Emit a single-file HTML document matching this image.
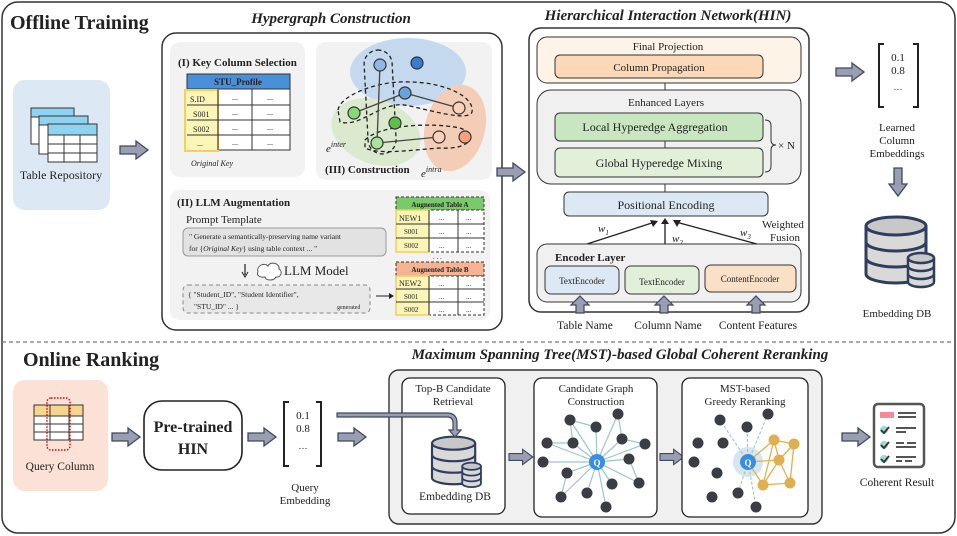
<!DOCTYPE html>
<html><head><meta charset="utf-8"><style>body{margin:0;background:#fff}svg{display:block}text{font-family:"Liberation Serif",serif;fill:#222}</style></head><body>
<svg width="957" height="536" viewBox="0 0 957 536" xmlns="http://www.w3.org/2000/svg">
<defs>
<path id="ar" d="M0,-4 H16 V-9 L28,0 L16,9 V4 H0 Z" fill="#9b9db3" stroke="#3d4a5c" stroke-width="1.3"/>
<g id="db">
<path d="M0,10 V58 A30,9 0 0 0 60,58 V10" fill="#d9d9d9" stroke="#2f3e5c" stroke-width="3"/>
<ellipse cx="30" cy="10" rx="30" ry="9" fill="#c8c8c8" stroke="#2f3e5c" stroke-width="3"/>
<path d="M0,26 A30,9 0 0 0 60,26 M0,42 A30,9 0 0 0 60,42" fill="none" stroke="#2f3e5c" stroke-width="3"/>
<path d="M42,42 V66 A13,5 0 0 0 68,66 V42" fill="#d9d9d9" stroke="#2f3e5c" stroke-width="2.5"/>
<ellipse cx="55" cy="42" rx="13" ry="5" fill="#c8c8c8" stroke="#2f3e5c" stroke-width="2.5"/>
<path d="M42,50 A13,5 0 0 0 68,50 M42,58 A13,5 0 0 0 68,58" fill="none" stroke="#2f3e5c" stroke-width="2.5"/>
</g>
</defs>
<rect x="2" y="2" width="953" height="531" rx="16" fill="#fff" stroke="#333" stroke-width="1.5"/>
<line x1="2" y1="342" x2="955" y2="342" stroke="#777" stroke-width="1.2" stroke-dasharray="4,3"/>
<text x="10" y="29" font-size="20" font-weight="bold">Offline Training</text>
<text x="23" y="366" font-size="20" font-weight="bold">Online Ranking</text>

<!-- Table repository -->
<rect x="13" y="80" width="97" height="130" rx="12" fill="#dce9f5"/>
<g stroke="#333" stroke-width="1" fill="#fff">
<rect x="31" y="108" width="43" height="36"/><rect x="31" y="108" width="43" height="9" fill="#8fd3f0"/>
<rect x="39" y="116" width="49" height="38"/><rect x="39" y="116" width="49" height="9" fill="#8fd3f0"/>
<rect x="48" y="124" width="49" height="38"/><rect x="48" y="124" width="49" height="11" fill="#8fd3f0"/>
<path d="M48,144 H97 M48,153 H97 M64,135 V162 M80,135 V162" fill="none"/>
</g>
<text x="61" y="179" font-size="12" text-anchor="middle">Table Repository</text>
<use href="#ar" x="120" y="150"/>

<!-- Hypergraph -->
<text x="331" y="23" font-size="15" font-weight="bold" font-style="italic" text-anchor="middle">Hypergraph Construction</text>
<rect x="162" y="33" width="340" height="297" rx="14" fill="#fff" stroke="#333" stroke-width="1.5"/>
<rect x="170" y="42" width="135" height="135" rx="10" fill="#f2f2f2"/>
<text x="178" y="66" font-size="11" font-weight="bold">(I) Key Column Selection</text>
<rect x="187" y="74" width="103" height="15" fill="#4a90d9" stroke="#333"/>
<text x="238" y="85" font-size="9" font-weight="bold" text-anchor="middle" font-family="Liberation Mono">STU_Profile</text>
<g stroke="#333" fill="#fff"><rect x="187" y="89" width="103" height="61"/></g>
<rect x="185" y="90" width="33" height="61" fill="#fbf6b8" stroke="#f0d060" stroke-width="2"/>
<path d="M187,105 H290 M187,120 H290 M187,135 H290 M218,89 V150 M252,89 V150" stroke="#333" fill="none"/>
<g font-size="8"><text x="190" y="102">S.ID</text><text x="193" y="117">S001</text><text x="193" y="132">S002</text><text x="197" y="146">...</text>
<text x="232" y="100">...</text><text x="267" y="100">...</text><text x="232" y="115">...</text><text x="267" y="115">...</text><text x="232" y="130">...</text><text x="267" y="130">...</text><text x="232" y="145">...</text><text x="267" y="145">...</text></g>
<text x="191" y="166" font-size="8" font-style="italic" fill="#555">Original Key</text>

<rect x="316" y="42" width="176" height="138" rx="10" fill="#f2f2f2"/>
<ellipse cx="408" cy="72" rx="58" ry="34" fill="#c5d9ee"/>
<ellipse cx="376" cy="132" rx="46" ry="32" fill="#dbeacf" transform="rotate(20 376 132)"/>
<ellipse cx="455" cy="128" rx="30" ry="44" fill="#f4cdb6" transform="rotate(15 455 128)"/>
<g fill="none" stroke="#222" stroke-width="1.3" stroke-dasharray="4,3">
<rect x="366" y="50" width="28" height="104" rx="14" transform="rotate(-3 380 100)"/>
<path d="M338,110 C340,95 380,80 410,82 C440,82 475,95 472,112 C468,122 430,110 405,105 C380,102 360,128 340,122 Z"/>
<path d="M365,140 C380,125 430,122 460,128 C480,135 470,150 440,148 C410,150 380,155 365,148 Z"/>
</g>
<g stroke="#444" stroke-width="1.3"><line x1="380" y1="65" x2="377" y2="143"/><line x1="354" y1="113" x2="405" y2="93"/><line x1="405" y1="93" x2="459" y2="108"/><line x1="377" y1="143" x2="439" y2="137"/></g>
<g stroke="#333" stroke-width="1.2">
<circle cx="380" cy="65" r="6" fill="#8fb8e6"/><circle cx="417" cy="63" r="6" fill="#3a7bd0"/><circle cx="405" cy="93" r="6" fill="#6aa2de"/>
<circle cx="354" cy="113" r="6" fill="#8ad77a"/><circle cx="395" cy="123" r="6" fill="#5ec04a"/><circle cx="377" cy="143" r="6" fill="#a9e49a"/>
<circle cx="459" cy="108" r="6" fill="#f8d2bb"/><circle cx="439" cy="137" r="6" fill="#f8d2bb"/><circle cx="465" cy="137" r="6" fill="#f3a27c"/></g>
<text x="326" y="152" font-size="11" font-style="italic">e<tspan font-size="8" dy="-5">inter</tspan></text>
<text x="421" y="177" font-size="11" font-style="italic">e<tspan font-size="8" dy="-5">intra</tspan></text>
<text x="325" y="173" font-size="11" font-weight="bold">(III) Construction</text>

<rect x="170" y="190" width="320" height="130" rx="10" fill="#f2f2f2"/>
<text x="177" y="206" font-size="11" font-weight="bold">(II) LLM Augmentation</text>
<text x="186" y="223" font-size="11">Prompt Template</text>
<rect x="183" y="228" width="203" height="28" rx="5" fill="#e2e2e2" stroke="#999"/>
<text x="189" y="239" font-size="7.5" font-family="Liberation Mono" fill="#444">" Generate a semantically-preserving name variant</text>
<text x="189" y="251" font-size="7.5" font-family="Liberation Mono" fill="#444">for {<tspan font-style="italic">Original Key</tspan>} using table context  ... "</text>
<path d="M245,264 V275" stroke="#222" stroke-width="1.2"/><path d="M242,272 L245,277 L248,272" fill="none" stroke="#222"/>
<path d="M258,272 c-2,-6 6,-10 10,-6 c2,-5 12,-3 11,3 c4,2 2,9 -3,8 c-2,4 -10,4 -11,0 c-5,1 -9,-2 -7,-5 z" fill="#fff" stroke="#555"/>
<text x="284" y="275" font-size="13">LLM Model</text>
<rect x="183" y="285" width="187" height="28" rx="5" fill="#e8e8e8" stroke="#888" stroke-dasharray="4,3"/>
<text x="188" y="297" font-size="7.5" font-family="Liberation Mono" fill="#444">{ "Student_ID", "Student Identifier",</text>
<text x="194" y="309" font-size="7.5" font-family="Liberation Mono" fill="#444">"STU_ID" ... }</text>
<text x="337" y="309" font-size="6" fill="#888">generated</text>
<path d="M376,296 H392" stroke="#222"/><path d="M389,293 L394,296 L389,299 Z" fill="#222"/>
<g font-size="7">
<rect x="396" y="197" width="88" height="13" fill="#7ac96a" stroke="#333" stroke-dasharray="3,2"/>
<text x="440" y="207" font-weight="bold" text-anchor="middle">Augnented Table A</text>
<rect x="396" y="210" width="88" height="42" fill="#fff" stroke="#333" stroke-dasharray="3,2"/>
<rect x="396" y="210" width="33" height="42" fill="#fbf6b8" stroke="#f0d060" stroke-width="1.5"/>
<path d="M396,224 H484 M396,238 H484 M429,210 V252 M458,210 V252" stroke="#333"/>
<text x="399" y="221" font-size="8">NEW1</text><text x="404" y="234">S001</text><text x="404" y="248">S002</text>
<text x="439" y="220">...</text><text x="466" y="220">...</text><text x="439" y="234">...</text><text x="466" y="234">...</text><text x="439" y="248">...</text><text x="466" y="248">...</text>
<text x="433" y="259">. . .</text>
<rect x="396" y="262" width="88" height="14" fill="#f4b393" stroke="#333" stroke-dasharray="3,2"/>
<text x="440" y="272" font-weight="bold" text-anchor="middle">Augnented Table B</text>
<rect x="396" y="276" width="88" height="39" fill="#fff" stroke="#333" stroke-dasharray="3,2"/>
<rect x="396" y="276" width="33" height="39" fill="#fbf6b8" stroke="#f0d060" stroke-width="1.5"/>
<path d="M396,289 H484 M396,302 H484 M429,276 V315 M458,276 V315" stroke="#333"/>
<text x="399" y="286" font-size="8">NEW2</text><text x="404" y="299">S001</text><text x="404" y="312">S002</text>
<text x="439" y="286">...</text><text x="466" y="286">...</text><text x="439" y="299">...</text><text x="466" y="299">...</text><text x="439" y="312">...</text><text x="466" y="312">...</text>
</g>
<use href="#ar" x="497" y="172"/>

<!-- HIN -->
<text x="668" y="20" font-size="15" font-weight="bold" font-style="italic" text-anchor="middle">Hierarchical Interaction Network(HIN)</text>
<rect x="529" y="28" width="280" height="284" rx="12" fill="#fff" stroke="#333" stroke-width="1.5"/>
<rect x="537" y="37" width="264" height="46" rx="10" fill="#fdf3e6" stroke="#333"/>
<text x="668" y="50" font-size="11" text-anchor="middle">Final Projection</text>
<rect x="555" y="55" width="208" height="23" rx="5" fill="#fbd9b8" stroke="#333"/>
<text x="659" y="71" font-size="11" text-anchor="middle">Column Propagation</text>
<line x1="665" y1="83" x2="665" y2="90" stroke="#333"/>
<rect x="537" y="90" width="264" height="94" rx="14" fill="#f0f0f0" stroke="#333"/>
<text x="666" y="106" font-size="11" text-anchor="middle">Enhanced Layers</text>
<rect x="555" y="113" width="208" height="28" rx="5" fill="#c8e6c0" stroke="#333"/>
<text x="655" y="131" font-size="12" text-anchor="middle">Local Hyperedge Aggregation</text>
<line x1="665" y1="141" x2="665" y2="148" stroke="#333"/>
<rect x="555" y="148" width="208" height="29" rx="5" fill="#e2f0da" stroke="#333"/>
<text x="659" y="167" font-size="12" text-anchor="middle">Global Hyperedge Mixing</text>
<path d="M765,120 q6,0 6,6 v14 q0,5 5,5 q-5,0 -5,5 v16 q0,6 -6,6" fill="none" stroke="#333"/>
<text x="778" y="149" font-size="11">× N</text>
<line x1="665" y1="184" x2="665" y2="192" stroke="#333"/>
<rect x="564" y="192" width="204" height="24" rx="5" fill="#dde8f5" stroke="#333"/>
<text x="666" y="209" font-size="12" text-anchor="middle">Positional Encoding</text>
<g stroke="#222" stroke-width="1.3"><line x1="587" y1="244" x2="655" y2="222"/><line x1="665" y1="244" x2="665" y2="222"/><line x1="757" y1="244" x2="676" y2="222"/></g>
<path d="M650,220 L658,221 L653,227 Z M661,224 L665,218 L669,224 Z M673,220 L681,220 L677,227 Z" fill="#222"/>
<text x="598" y="232" font-size="11" font-style="italic">w<tspan font-size="7" dy="3">1</tspan></text>
<text x="672" y="242" font-size="11" font-style="italic">w<tspan font-size="7" dy="3">2</tspan></text>
<text x="740" y="236" font-size="11" font-style="italic">w<tspan font-size="7" dy="3">3</tspan></text>
<text x="783" y="228" font-size="11" text-anchor="middle">Weighted</text>
<text x="785" y="241" font-size="11" text-anchor="middle">Fusion</text>
<rect x="537" y="244" width="264" height="58" rx="10" fill="#f0f0f0" stroke="#333"/>
<text x="555" y="261" font-size="11" font-weight="bold">Encoder Layer</text>
<rect x="545" y="266" width="74" height="28" rx="6" fill="#dde8f5" stroke="#333"/>
<text x="582" y="284" font-size="9" text-anchor="middle">TextEncoder</text>
<rect x="625" y="266" width="74" height="28" rx="6" fill="#e2f0da" stroke="#333"/>
<text x="662" y="285" font-size="9" text-anchor="middle">TextEncoder</text>
<rect x="705" y="265" width="91" height="27" rx="6" fill="#fbe0c8" stroke="#333"/>
<text x="750" y="282" font-size="9" text-anchor="middle">ContentEncoder</text>
<g fill="#9b9db3" stroke="#3d4a5c" stroke-width="1.2">
<path d="M580,296 L589,305 H584 V313 H576 V305 H571 Z"/>
<path d="M664,296 L673,305 H668 V313 H660 V305 H655 Z"/>
<path d="M756,296 L765,305 H760 V313 H752 V305 H747 Z"/></g>
<text x="585" y="329" font-size="11.5" text-anchor="middle">Table Name</text>
<text x="668" y="329" font-size="11.5" text-anchor="middle">Column Name</text>
<text x="758" y="329" font-size="11.5" text-anchor="middle">Content Features</text>

<!-- right -->
<use href="#ar" x="836" y="72"/>
<path d="M884,44 H879 V107 H884 M913,44 H918 V107 H913" fill="none" stroke="#222" stroke-width="2"/>
<text x="898" y="61" font-size="11" text-anchor="middle">0.1</text>
<text x="898" y="74" font-size="11" text-anchor="middle">0.8</text>
<text x="898" y="90" font-size="9" text-anchor="middle" fill="#777">…</text>
<g font-size="11" text-anchor="middle"><text x="897" y="131">Learned</text><text x="897" y="144">Column</text><text x="897" y="157">Embeddings</text></g>
<use href="#ar" transform="translate(898,168) rotate(90)"/>
<use href="#db" x="866" y="216"/>
<text x="897" y="317" font-size="11" text-anchor="middle">Embedding DB</text>

<!-- Online -->
<rect x="13" y="380" width="95" height="111" rx="12" fill="#fbe1d6"/>
<rect x="34" y="405" width="49" height="11" fill="#f6d68f" stroke="#333"/>
<rect x="34" y="416" width="49" height="24" fill="#fff" stroke="#333"/>
<path d="M34,424 H83 M34,432 H83 M50,405 V440 M69,405 V440" stroke="#333"/>
<rect x="47" y="398" width="23" height="52" rx="4" fill="none" stroke="#d00" stroke-width="1.4" stroke-dasharray="1.5,1.5"/>
<text x="60" y="470" font-size="11.5" text-anchor="middle">Query Column</text>
<use href="#ar" x="112" y="437"/>
<rect x="144" y="401" width="98" height="69" rx="18" fill="#fff" stroke="#222" stroke-width="1.6"/>
<text x="193" y="432" font-size="16" font-weight="bold" text-anchor="middle">Pre-trained</text>
<text x="193" y="454" font-size="16" font-weight="bold" text-anchor="middle">HIN</text>
<use href="#ar" x="248" y="437"/>
<path d="M289,402 H284 V466 H289 M316,402 H321 V466 H316" fill="none" stroke="#222" stroke-width="2"/>
<text x="303" y="419" font-size="11" text-anchor="middle">0.1</text>
<text x="303" y="432" font-size="11" text-anchor="middle">0.8</text>
<text x="303" y="449" font-size="9" text-anchor="middle" fill="#777">…</text>
<text x="305" y="491" font-size="11" text-anchor="middle">Query</text>
<text x="305" y="504" font-size="11" text-anchor="middle">Embedding</text>
<use href="#ar" x="338" y="437"/>

<text x="620" y="359" font-size="15" font-weight="bold" font-style="italic" text-anchor="middle">Maximum Spanning Tree(MST)-based Global Coherent Reranking</text>
<rect x="389" y="370" width="433" height="154" rx="10" fill="#f0f0f0" stroke="#333" stroke-width="1.4"/>
<rect x="402" y="378" width="103" height="136" rx="8" fill="#fff" stroke="#222" stroke-width="1.3"/>
<text x="453" y="392" font-size="11" text-anchor="middle">Top-B Candidate</text>
<text x="453" y="405" font-size="11" text-anchor="middle">Retrieval</text>
<use href="#db" transform="translate(432,436) scale(0.72)"/>
<text x="455" y="500" font-size="11.5" text-anchor="middle">Embedding DB</text>
<use href="#ar" transform="translate(509,457) scale(0.85)"/>
<rect x="534" y="378" width="123" height="139" rx="8" fill="#fff" stroke="#222" stroke-width="1.3"/>
<text x="596" y="392" font-size="11" text-anchor="middle">Candidate Graph</text>
<text x="596" y="405" font-size="11" text-anchor="middle">Construction</text>
<g stroke="#9cc6c9" stroke-width="1.2">
<path d="M597,462 L570,420 M597,462 L596,427 M597,462 L618,414 M597,462 L547,443 M597,462 L573,443 M597,462 L622,439 M597,462 L645,444 M597,462 L543,462 M597,462 L629,459 M597,462 L567,473 M597,462 L612,484 M597,462 L639,483 M597,462 L587,493 M597,462 L561,497 M597,462 L606,507 M570,420 L596,427 M570,420 L573,443 M547,443 L573,443 M622,439 L645,444 M629,459 L639,483 M567,473 L561,497 M618,414 L622,439"/></g>
<g fill="#3a3d44">
<circle cx="570" cy="420" r="5.5"/><circle cx="596" cy="427" r="5.5"/><circle cx="618" cy="414" r="5.5"/><circle cx="547" cy="443" r="5.5"/><circle cx="573" cy="443" r="5.5"/><circle cx="622" cy="439" r="5.5"/><circle cx="645" cy="444" r="5.5"/><circle cx="543" cy="462" r="5.5"/><circle cx="629" cy="459" r="5.5"/><circle cx="567" cy="473" r="5.5"/><circle cx="612" cy="484" r="5.5"/><circle cx="639" cy="483" r="5.5"/><circle cx="587" cy="493" r="5.5"/><circle cx="561" cy="497" r="5.5"/><circle cx="606" cy="507" r="5.5"/></g>
<circle cx="597" cy="462" r="8" fill="#3b8de0"/><text x="597" y="466" font-size="9" font-weight="bold" text-anchor="middle" style="fill:#fff">Q</text>
<use href="#ar" transform="translate(660,457) scale(0.85)"/>
<rect x="682" y="378" width="126" height="139" rx="8" fill="#fff" stroke="#222" stroke-width="1.3"/>
<text x="745" y="392" font-size="11" text-anchor="middle">MST-based</text>
<text x="745" y="405" font-size="11" text-anchor="middle">Greedy Reranking</text>
<circle cx="748" cy="462" r="15" fill="#d7e5ee"/>
<g stroke="#9cc6c9" stroke-width="1.1" stroke-dasharray="3,2"><path d="M748,462 L720,420 M748,462 L747,427 M748,462 L768,414 M748,462 L738,493 M748,462 L756,507"/></g>
<g stroke="#e0b050" stroke-width="1.3"><path d="M748,462 L774,440 M748,462 L779,460 M748,462 L763,485 M774,440 L794,444 M774,440 L779,460 M794,444 L779,460 M794,444 L790,483 M779,460 L790,483 M779,460 L763,485 M763,485 L790,483 M774,440 L763,485"/></g>
<g fill="#3a3d44">
<circle cx="720" cy="420" r="5.5"/><circle cx="747" cy="427" r="5.5"/><circle cx="768" cy="414" r="5.5"/><circle cx="698" cy="443" r="5.5"/><circle cx="723" cy="443" r="5.5"/><circle cx="694" cy="462" r="5.5"/><circle cx="717" cy="473" r="5.5"/><circle cx="712" cy="497" r="5.5"/><circle cx="738" cy="493" r="5.5"/><circle cx="756" cy="507" r="5.5"/></g>
<g fill="#e0b050"><circle cx="774" cy="440" r="5.5"/><circle cx="794" cy="444" r="5.5"/><circle cx="779" cy="460" r="5.5"/><circle cx="790" cy="483" r="5.5"/><circle cx="763" cy="485" r="5.5"/></g>
<circle cx="748" cy="462" r="8" fill="#3b8de0"/><text x="748" y="466" font-size="9" font-weight="bold" text-anchor="middle" style="fill:#fff">Q</text>

<!-- bent arrow into retrieval (drawn on top) -->
<path d="M337,417 H447 Q453,417 453,423 V430 H449 L455,437 L461,430 H457 V423 Q457,413 447,413 H337 Z" fill="#9b9db3" stroke="#3d4a5c" stroke-width="1.2"/>

<use href="#ar" x="842" y="437"/>
<rect x="874" y="404" width="50" height="63" rx="4" fill="#fff" stroke="#555" stroke-width="2.5"/>
<rect x="880" y="412" width="14" height="6" fill="#f28a9a"/>
<path d="M898,413 H916 M898,417 H916 M896,428 H916 M896,432 H906 M896,443 H904 M907,443 H916 M896,447 H916 M896,457 H916 M896,461 H902 M905,461 H912" stroke="#555" stroke-width="2"/>
<g fill="#9fd8d0"><circle cx="884" cy="430" r="4"/><circle cx="884" cy="445" r="4"/><circle cx="884" cy="459" r="4"/></g>
<path d="M881,430 l3,3 l5,-6 M881,445 l3,3 l5,-6 M881,459 l3,3 l5,-6" fill="none" stroke="#333" stroke-width="1.8"/>
<text x="897" y="486" font-size="11.5" text-anchor="middle">Coherent Result</text>
</svg>
</body></html>
